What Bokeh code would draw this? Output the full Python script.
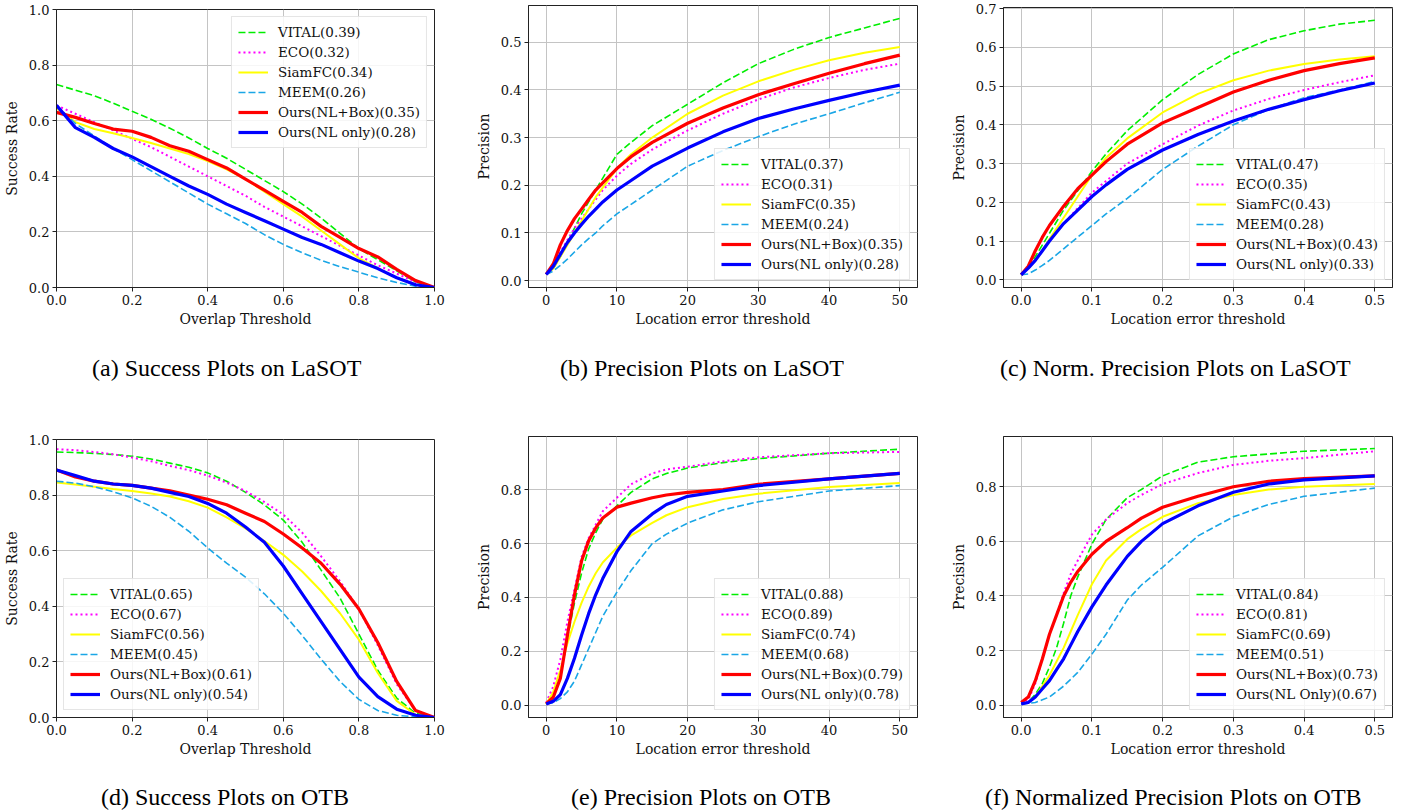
from bokeh.plotting import figure
from bokeh.layouts import column, row
from bokeh.models import Range1d, FixedTicker, PrintfTickFormatter, Div
from bokeh.embed import file_html
from bokeh.resources import INLINE

# ---------------- data ----------------
NAMES = ["VITAL", "ECO", "SiamFC", "MEEM", "Ours(NL+Box)", "Ours(NL only)"]
NAMES_F = ["VITAL", "ECO", "SiamFC", "MEEM", "Ours(NL+Box)", "Ours(NL Only)"]

# (a) Success plots on LaSOT
A_X = [0.0, 0.05, 0.1, 0.15, 0.2, 0.25, 0.3, 0.35, 0.4, 0.45, 0.5, 0.55, 0.6, 0.65, 0.7, 0.75, 0.8, 0.85, 0.9, 0.95, 1.0]
A_VITAL = [0.73, 0.71, 0.69, 0.663, 0.634, 0.605, 0.573, 0.538, 0.50, 0.465, 0.425, 0.385, 0.345, 0.30, 0.25, 0.195, 0.14, 0.10, 0.06, 0.02, 0.0]
A_ECO = [0.655, 0.625, 0.595, 0.565, 0.535, 0.505, 0.47, 0.435, 0.40, 0.365, 0.33, 0.29, 0.255, 0.22, 0.185, 0.15, 0.115, 0.08, 0.05, 0.02, 0.0]
A_SIAM = [0.645, 0.595, 0.57, 0.555, 0.538, 0.52, 0.50, 0.48, 0.455, 0.425, 0.39, 0.345, 0.30, 0.255, 0.205, 0.155, 0.105, 0.07, 0.035, 0.01, 0.0]
A_MEEM = [0.655, 0.59, 0.545, 0.50, 0.46, 0.42, 0.38, 0.34, 0.30, 0.265, 0.23, 0.19, 0.155, 0.125, 0.098, 0.075, 0.055, 0.035, 0.018, 0.005, 0.0]
A_BOX = [0.63, 0.612, 0.59, 0.57, 0.562, 0.54, 0.51, 0.49, 0.46, 0.43, 0.39, 0.35, 0.31, 0.27, 0.22, 0.18, 0.14, 0.11, 0.065, 0.025, 0.0]
A_NL = [0.655, 0.575, 0.54, 0.50, 0.47, 0.435, 0.40, 0.365, 0.335, 0.30, 0.27, 0.24, 0.21, 0.18, 0.155, 0.125, 0.095, 0.068, 0.035, 0.01, 0.0]
A_SCORES = [0.39, 0.32, 0.34, 0.26, 0.35, 0.28]

# (b) Precision plots on LaSOT
B_X = [0, 1, 2, 3, 4, 5, 6, 7, 8, 10, 12, 15, 20, 25, 30, 35, 40, 45, 50]
B_VITAL = [0.013, 0.025, 0.05, 0.08, 0.11, 0.14, 0.165, 0.19, 0.215, 0.265, 0.29, 0.325, 0.37, 0.415, 0.455, 0.485, 0.51, 0.53, 0.55]
B_ECO = [0.013, 0.03, 0.06, 0.085, 0.11, 0.13, 0.15, 0.17, 0.19, 0.22, 0.245, 0.275, 0.315, 0.35, 0.38, 0.405, 0.425, 0.442, 0.455]
B_SIAM = [0.013, 0.025, 0.05, 0.075, 0.10, 0.125, 0.15, 0.175, 0.195, 0.235, 0.265, 0.30, 0.35, 0.388, 0.418, 0.442, 0.462, 0.478, 0.49]
B_MEEM = [0.013, 0.02, 0.032, 0.045, 0.06, 0.075, 0.088, 0.10, 0.115, 0.14, 0.16, 0.19, 0.24, 0.273, 0.302, 0.328, 0.35, 0.373, 0.395]
B_BOX = [0.013, 0.035, 0.075, 0.105, 0.13, 0.15, 0.17, 0.19, 0.205, 0.235, 0.26, 0.29, 0.33, 0.362, 0.39, 0.413, 0.435, 0.455, 0.473]
B_NL = [0.013, 0.03, 0.055, 0.08, 0.10, 0.118, 0.135, 0.15, 0.165, 0.19, 0.21, 0.24, 0.278, 0.312, 0.34, 0.36, 0.378, 0.395, 0.41]
B_SCORES = [0.37, 0.31, 0.35, 0.24, 0.35, 0.28]

# (c) Normalized precision plots on LaSOT
C_X = [0.0, 0.01, 0.02, 0.03, 0.04, 0.06, 0.08, 0.1, 0.12, 0.15, 0.2, 0.25, 0.3, 0.35, 0.4, 0.45, 0.5]
C_VITAL = [0.013, 0.035, 0.06, 0.09, 0.12, 0.18, 0.23, 0.28, 0.325, 0.385, 0.465, 0.53, 0.583, 0.62, 0.643, 0.66, 0.67]
C_ECO = [0.013, 0.03, 0.05, 0.075, 0.10, 0.145, 0.185, 0.225, 0.255, 0.30, 0.35, 0.398, 0.437, 0.467, 0.49, 0.51, 0.528]
C_SIAM = [0.013, 0.03, 0.05, 0.075, 0.105, 0.16, 0.215, 0.27, 0.315, 0.365, 0.432, 0.48, 0.515, 0.54, 0.557, 0.569, 0.577]
C_MEEM = [0.013, 0.015, 0.025, 0.037, 0.05, 0.08, 0.11, 0.14, 0.17, 0.21, 0.285, 0.345, 0.40, 0.44, 0.47, 0.49, 0.512]
C_BOX = [0.013, 0.035, 0.075, 0.11, 0.14, 0.19, 0.235, 0.27, 0.305, 0.35, 0.405, 0.445, 0.485, 0.515, 0.54, 0.558, 0.573]
C_NL = [0.013, 0.03, 0.05, 0.075, 0.10, 0.145, 0.18, 0.215, 0.245, 0.285, 0.335, 0.375, 0.41, 0.44, 0.465, 0.488, 0.508]
C_SCORES = [0.47, 0.35, 0.43, 0.28, 0.43, 0.33]

# (d) Success plots on OTB
D_X = [0.0, 0.05, 0.1, 0.15, 0.2, 0.25, 0.3, 0.35, 0.4, 0.45, 0.5, 0.55, 0.6, 0.65, 0.7, 0.75, 0.8, 0.85, 0.9, 0.95, 1.0]
D_VITAL = [0.955, 0.953, 0.95, 0.946, 0.94, 0.93, 0.915, 0.90, 0.88, 0.85, 0.81, 0.765, 0.71, 0.63, 0.53, 0.43, 0.30, 0.17, 0.07, 0.015, 0.0]
D_ECO = [0.965, 0.962, 0.955, 0.947, 0.935, 0.922, 0.905, 0.89, 0.87, 0.845, 0.815, 0.775, 0.73, 0.665, 0.58, 0.49, 0.39, 0.26, 0.12, 0.025, 0.0]
D_SIAM = [0.845, 0.838, 0.83, 0.822, 0.815, 0.806, 0.795, 0.778, 0.755, 0.72, 0.68, 0.635, 0.585, 0.525, 0.455, 0.375, 0.28, 0.16, 0.06, 0.01, 0.0]
D_MEEM = [0.85, 0.843, 0.83, 0.812, 0.79, 0.76, 0.72, 0.67, 0.61, 0.555, 0.505, 0.445, 0.375, 0.295, 0.21, 0.13, 0.065, 0.025, 0.008, 0.002, 0.0]
D_BOX = [0.89, 0.865, 0.85, 0.84, 0.835, 0.825, 0.815, 0.80, 0.785, 0.765, 0.735, 0.705, 0.66, 0.61, 0.555, 0.48, 0.39, 0.27, 0.13, 0.025, 0.0]
D_NL = [0.89, 0.87, 0.85, 0.84, 0.835, 0.825, 0.81, 0.795, 0.77, 0.735, 0.685, 0.63, 0.545, 0.445, 0.345, 0.245, 0.145, 0.075, 0.03, 0.008, 0.0]
D_SCORES = [0.65, 0.67, 0.56, 0.45, 0.61, 0.54]

# (e) Precision plots on OTB
E_X = [0, 1, 2, 3, 4, 5, 6, 7, 8, 10, 12, 15, 17, 20, 25, 30, 40, 50]
E_VITAL = [0.005, 0.03, 0.10, 0.25, 0.38, 0.49, 0.58, 0.64, 0.69, 0.74, 0.79, 0.84, 0.86, 0.88, 0.90, 0.915, 0.935, 0.95]
E_ECO = [0.01, 0.07, 0.17, 0.31, 0.43, 0.55, 0.62, 0.67, 0.72, 0.77, 0.82, 0.86, 0.875, 0.885, 0.905, 0.92, 0.935, 0.94]
E_SIAM = [0.005, 0.05, 0.13, 0.23, 0.31, 0.38, 0.44, 0.49, 0.53, 0.585, 0.63, 0.677, 0.705, 0.735, 0.765, 0.785, 0.81, 0.825]
E_MEEM = [0.005, 0.01, 0.025, 0.05, 0.09, 0.15, 0.21, 0.27, 0.33, 0.42, 0.50, 0.60, 0.635, 0.676, 0.725, 0.755, 0.795, 0.815]
E_BOX = [0.005, 0.03, 0.10, 0.26, 0.41, 0.535, 0.61, 0.658, 0.695, 0.735, 0.75, 0.77, 0.78, 0.79, 0.80, 0.82, 0.84, 0.86]
E_NL = [0.005, 0.015, 0.04, 0.10, 0.175, 0.26, 0.34, 0.41, 0.47, 0.57, 0.645, 0.71, 0.745, 0.775, 0.795, 0.815, 0.84, 0.86]
E_SCORES = [0.88, 0.89, 0.74, 0.68, 0.79, 0.78]

# (f) Normalized precision plots on OTB
F_X = [0.0, 0.01, 0.02, 0.03, 0.04, 0.05, 0.06, 0.07, 0.08, 0.1, 0.12, 0.15, 0.17, 0.2, 0.25, 0.3, 0.35, 0.4, 0.5]
F_VITAL = [0.005, 0.01, 0.04, 0.08, 0.14, 0.21, 0.30, 0.40, 0.47, 0.59, 0.68, 0.76, 0.79, 0.84, 0.89, 0.91, 0.92, 0.93, 0.94]
F_ECO = [0.005, 0.02, 0.08, 0.17, 0.26, 0.33, 0.41, 0.48, 0.53, 0.625, 0.68, 0.74, 0.77, 0.81, 0.85, 0.88, 0.895, 0.905, 0.93]
F_SIAM = [0.005, 0.01, 0.03, 0.07, 0.11, 0.16, 0.21, 0.27, 0.33, 0.443, 0.53, 0.608, 0.645, 0.69, 0.74, 0.77, 0.79, 0.80, 0.81]
F_MEEM = [0.005, 0.007, 0.01, 0.02, 0.03, 0.05, 0.07, 0.095, 0.12, 0.187, 0.26, 0.385, 0.44, 0.505, 0.62, 0.69, 0.735, 0.765, 0.795]
F_BOX = [0.01, 0.03, 0.09, 0.17, 0.26, 0.33, 0.40, 0.45, 0.49, 0.553, 0.60, 0.65, 0.685, 0.725, 0.765, 0.80, 0.82, 0.83, 0.84]
F_NL = [0.005, 0.01, 0.03, 0.06, 0.09, 0.13, 0.17, 0.22, 0.27, 0.36, 0.44, 0.545, 0.60, 0.665, 0.73, 0.78, 0.81, 0.825, 0.84]
F_SCORES = [0.84, 0.81, 0.69, 0.51, 0.73, 0.67]

CAPTIONS = ["(a) Success Plots on LaSOT", "(b) Precision Plots on LaSOT",
            "(c) Norm. Precision Plots on LaSOT", "(d) Success Plots on OTB",
            "(e) Precision Plots on OTB", "(f) Normalized Precision Plots on OTB"]

# ---------------- styles ----------------
STYLES = [
    dict(line_color="#00ee00", line_dash="7 3", line_width=1.6),
    dict(line_color="#ff00ff", line_dash="2 3", line_width=2.0),
    dict(line_color="#ffff00", line_dash="solid", line_width=2.0),
    dict(line_color="#1aa6e6", line_dash="7 3", line_width=1.6),
    dict(line_color="#ff0000", line_dash="solid", line_width=3.2),
    dict(line_color="#0000ff", line_dash="solid", line_width=3.2),
]
SERIF = "DejaVu Serif"
CAP_FONT = "Liberation Serif"


def panel(xs, ys_list, names, scores, xr, yr, xticks, yticks, xfmt, yfmt,
          xlabel, ylabel, legend_loc, width, height, bl, br, bt, bb):
    p = figure(width=width, height=height, output_backend="svg", toolbar_location=None,
               title=None, x_range=Range1d(*xr), y_range=Range1d(*yr),
               min_border_left=bl, min_border_right=br, min_border_top=bt, min_border_bottom=bb)
    p.background_fill_color = "white"
    p.border_fill_color = "white"
    p.outline_line_color = "#222222"
    p.outline_line_width = 1
    for ys, nm, sc, st in zip(ys_list, names, scores, STYLES):
        p.line(xs, ys, legend_label=f"{nm}({sc:.2f})", **st)
    for ax, lab, ticks, fmt, lst in ((p.xaxis, xlabel, xticks, xfmt, 3), (p.yaxis, ylabel, yticks, yfmt, 6)):
        ax.ticker = FixedTicker(ticks=ticks)
        ax.formatter = PrintfTickFormatter(format=fmt)
        ax.axis_label = lab
        ax.axis_label_text_font = SERIF
        ax.axis_label_text_font_size = "14px"
        ax.axis_label_text_font_style = "normal"
        ax.axis_label_text_color = "#111111"
        ax.axis_label_standoff = lst
        ax.major_label_text_font = SERIF
        ax.major_label_text_font_size = "13px"
        ax.major_label_text_color = "#111111"
        ax.major_label_standoff = 3
        ax.major_tick_out = 4
        ax.major_tick_in = 0
        ax.minor_tick_out = 0
        ax.minor_tick_in = 0
        ax.axis_line_color = "#222222"
        ax.major_tick_line_color = "#222222"
    p.xgrid.ticker = FixedTicker(ticks=xticks)
    p.ygrid.ticker = FixedTicker(ticks=yticks)
    for g in (p.xgrid, p.ygrid):
        g.grid_line_color = "#c4c4c4"
        g.grid_line_width = 1
    lg = p.legend[0]
    lg.location = legend_loc
    lg.margin = 7
    lg.padding = 6
    lg.spacing = 2
    lg.label_height = 18
    lg.glyph_height = 18
    lg.glyph_width = 30
    lg.label_standoff = 10
    lg.label_text_font = SERIF
    lg.label_text_font_size = "13.5px"
    lg.label_text_color = "#111111"
    lg.border_line_color = "#cccccc"
    lg.border_line_width = 1
    lg.background_fill_color = "white"
    lg.background_fill_alpha = 0.85
    return p


def caption(text, width, height, pad_left, pad_top):
    html = (f'<div style="padding:{pad_top}px 0 0 {pad_left}px;font-family:\'{CAP_FONT}\',serif;'
            f'font-size:24px;line-height:28px;white-space:nowrap;color:#000;">{text}</div>')
    return Div(text=html, width=width, height=height, margin=0)


F1H, C1H, F2H, C2H = 350, 74, 356, 32
pa = panel(A_X, [A_VITAL, A_ECO, A_SIAM, A_MEEM, A_BOX, A_NL], NAMES, A_SCORES,
           (0, 1), (0, 1), [0, 0.2, 0.4, 0.6, 0.8, 1.0], [0, 0.2, 0.4, 0.6, 0.8, 1.0], "%.1f", "%.1f",
           "Overlap Threshold", "Success Rate", "top_right", 470, F1H, 54, 36, 9, 63)
pb = panel(B_X, [B_VITAL, B_ECO, B_SIAM, B_MEEM, B_BOX, B_NL], NAMES, B_SCORES,
           (-2.5, 52.5), (-0.0144, 0.577), [0, 10, 20, 30, 40, 50], [0, 0.1, 0.2, 0.3, 0.4, 0.5], "%d", "%.1f",
           "Location error threshold", "Precision", "bottom_right", 470, F1H, 58, 23, 5, 63)
pc = panel(C_X, [C_VITAL, C_ECO, C_SIAM, C_MEEM, C_BOX, C_NL], NAMES, C_SCORES,
           (-0.025, 0.525), (-0.02, 0.703), [0, 0.1, 0.2, 0.3, 0.4, 0.5],
           [0, 0.1, 0.2, 0.3, 0.4, 0.5, 0.6, 0.7], "%.1f", "%.1f",
           "Location error threshold", "Precision", "bottom_right", 469, F1H, 63, 17, 7, 63)
pd_ = panel(D_X, [D_VITAL, D_ECO, D_SIAM, D_MEEM, D_BOX, D_NL], NAMES, D_SCORES,
            (0, 1), (0, 1), [0, 0.2, 0.4, 0.6, 0.8, 1.0], [0, 0.2, 0.4, 0.6, 0.8, 1.0], "%.1f", "%.1f",
            "Overlap Threshold", "Success Rate", "bottom_left", 470, F2H, 54, 36, 15, 63)
pe = panel(E_X, [E_VITAL, E_ECO, E_SIAM, E_MEEM, E_BOX, E_NL], NAMES, E_SCORES,
           (-2.5, 52.5), (-0.045, 0.997), [0, 10, 20, 30, 40, 50], [0, 0.2, 0.4, 0.6, 0.8], "%d", "%.1f",
           "Location error threshold", "Precision", "bottom_right", 470, F2H, 58, 23, 12, 63)
pf = panel(F_X, [F_VITAL, F_ECO, F_SIAM, F_MEEM, F_BOX, F_NL], NAMES_F, F_SCORES,
           (-0.025, 0.525), (-0.045, 0.984), [0, 0.1, 0.2, 0.3, 0.4, 0.5], [0, 0.2, 0.4, 0.6, 0.8], "%.1f", "%.1f",
           "Location error threshold", "Precision", "bottom_right", 469, F2H, 63, 17, 12, 63)

ca = caption(CAPTIONS[0], 470, C1H, 92, 4)
cb = caption(CAPTIONS[1], 470, C1H, 90, 4)
cc = caption(CAPTIONS[2], 469, C1H, 60, 4)
cd = caption(CAPTIONS[3], 470, C2H, 101, 3)
ce = caption(CAPTIONS[4], 470, C2H, 101, 3)
cf = caption(CAPTIONS[5], 469, C2H, 45, 3)

layout = column(
    row(column(pa, ca, spacing=0), column(pb, cb, spacing=0), column(pc, cc, spacing=0), spacing=0),
    row(column(pd_, cd, spacing=0), column(pe, ce, spacing=0), column(pf, cf, spacing=0), spacing=0),
    spacing=0)
open("out.html", "w").write(file_html(layout, INLINE))
